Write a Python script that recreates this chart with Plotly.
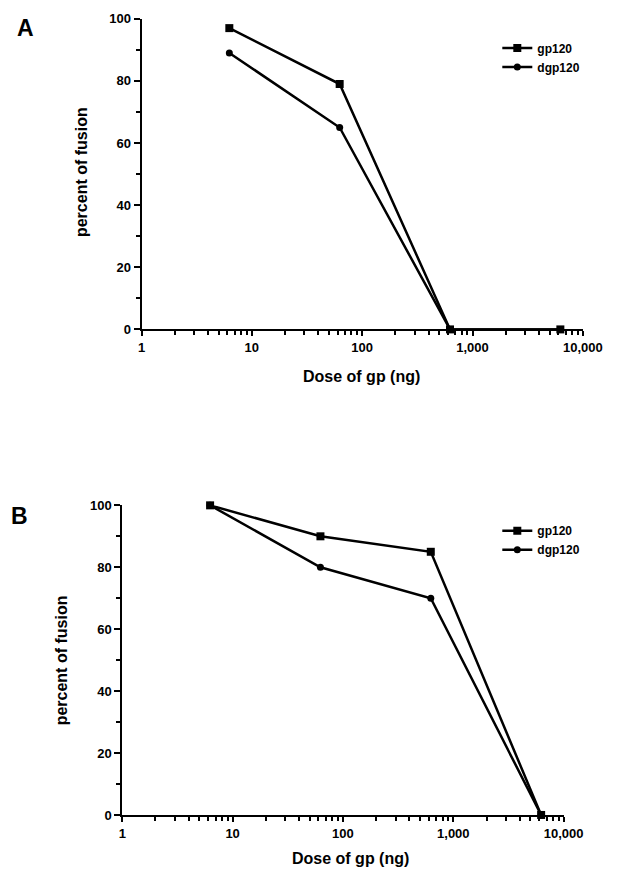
import plotly.graph_objects as go

# Dose series (ng) and percent fusion for each panel
doses = [6.25, 62.5, 625, 6250]
a_gp120 = [97, 79, 0, 0]
a_dgp120 = [89, 65, 0, 0]
b_gp120 = [100, 90, 85, 0]
b_dgp120 = [100, 80, 70, 0]

x_tickvals = [1, 10, 100, 1000, 10000]
x_ticktext = ["1", "10", "100", "1,000", "10,000"]
y_tickvals = [0, 20, 40, 60, 80, 100]

FONT = "Liberation Sans"
W, H = 625, 879

fig = go.Figure()

def add_pair(gp, dgp, xa, ya, legend):
    fig.add_trace(go.Scatter(
        x=doses, y=gp, name="gp120", mode="lines+markers",
        line=dict(color="black", width=2.5),
        marker=dict(symbol="square", size=8, color="black"),
        xaxis=xa, yaxis=ya, legend=legend, cliponaxis=False))
    fig.add_trace(go.Scatter(
        x=doses, y=dgp, name="dgp120", mode="lines+markers",
        line=dict(color="black", width=2.5),
        marker=dict(symbol="circle", size=7, color="black"),
        xaxis=xa, yaxis=ya, legend=legend, cliponaxis=False))

add_pair(a_gp120, a_dgp120, "x", "y", "legend")
add_pair(b_gp120, b_dgp120, "x2", "y2", "legend2")

def px_x(p):
    return p / W

def px_y(p):
    return 1 - p / H

xaxis_common = dict(
    type="log", range=[0, 4], tickvals=x_tickvals, ticktext=x_ticktext,
    ticks="outside", ticklen=5, tickwidth=2, tickcolor="black",
    showline=True, linecolor="black", linewidth=2, showgrid=False, zeroline=False,
    minor=dict(ticks="outside", ticklen=4, tickwidth=1.5, tickcolor="black", dtick="D1", showgrid=False),
    tickfont=dict(family=FONT, size=13, color="black", weight="bold"),
)
yaxis_common = dict(
    range=[0, 100], tickvals=y_tickvals,
    ticks="outside", ticklen=6, tickwidth=2, tickcolor="black",
    showline=True, linecolor="black", linewidth=2, showgrid=False, zeroline=False,
    minor=dict(ticks="outside", ticklen=4, tickwidth=1.5, tickcolor="black", dtick=10, showgrid=False),
    tickfont=dict(family=FONT, size=13, color="black", weight="bold"),
)

legend_common = dict(xanchor="left", yanchor="top", itemwidth=30, tracegroupgap=0,
                     bgcolor="rgba(0,0,0,0)",
                     font=dict(family=FONT, size=12, color="black", weight="bold"))

fig.update_layout(
    width=W, height=H, margin=dict(l=0, r=0, t=0, b=0),
    paper_bgcolor="white", plot_bgcolor="white",
    xaxis=dict(domain=[px_x(143), px_x(602)], anchor="y", **xaxis_common),
    yaxis=dict(domain=[px_y(328), px_y(12)], anchor="x", **yaxis_common),
    xaxis2=dict(domain=[px_x(123), px_x(582)], anchor="y2", **xaxis_common),
    yaxis2=dict(domain=[px_y(822), px_y(507)], anchor="x2", **yaxis_common),
    legend=dict(x=px_x(513), y=px_y(27), **legend_common),
    legend2=dict(x=px_x(513), y=px_y(518), **legend_common),
    showlegend=True,
)

def text(x, y, s, size, angle=0):
    fig.add_annotation(x=px_x(x), y=px_y(y), xref="paper", yref="paper",
                       text=s, showarrow=False, textangle=angle,
                       xanchor="center", yanchor="middle",
                       font=dict(family=FONT, size=size, color="black", weight="bold"))

text(22, 21, "A", 23)
text(16, 518, "B", 23)
text(372, 376, "Dose of gp (ng)", 16)
text(360, 866, "Dose of gp (ng)", 16)
text(80, 168, "percent of fusion", 16, -90)
text(60, 665, "percent of fusion", 16, -90)

fig.write_html("out.html")
